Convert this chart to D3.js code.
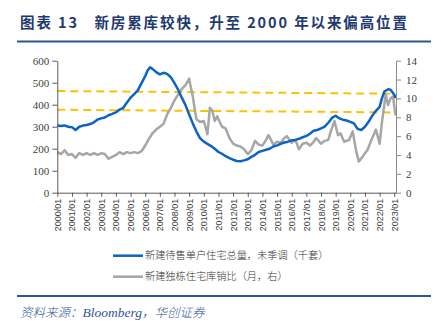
<!DOCTYPE html>
<html><head><meta charset="utf-8">
<script src="https://cdn.jsdelivr.net/npm/d3@7"></script>
<style>
html,body{margin:0;padding:0;background:#fff;}
svg{display:block;}
</style></head>
<body>
<svg id="chart" width="441" height="321"></svg>
<script>
// ---------------- DATA ----------------
const titleText = "图表 13   新房累库较快，升至 2000 年以来偏高位置";
const sourceParts = ["资料来源：", "Bloomberg", "，华创证券"];
const seriesNames = ["新建待售单户住宅总量，未季调（千套）", "新建独栋住宅库销比（月，右）"];

const xTickLabels = ["2000/01","2001/01","2002/01","2003/01","2004/01","2005/01","2006/01","2007/01","2008/01","2009/01","2010/01","2011/01","2012/01","2013/01","2014/01","2015/01","2016/01","2017/01","2018/01","2019/01","2020/01","2021/01","2022/01","2023/01"];
const leftTicks = [0,100,200,300,400,500,600];
const rightTicks = [0,2,4,6,8,10,12,14];

// 新建待售单户住宅总量 (千套), left axis
const inventoryDates = ["2000-01","2000-04","2000-07","2000-10","2001-01","2001-04","2001-07","2001-10","2002-01","2002-04","2002-07","2002-10","2003-01","2003-04","2003-07","2003-10","2004-01","2004-04","2004-07","2004-10","2005-01","2005-04","2005-07","2005-10","2006-01","2006-03","2006-05","2006-07","2006-10","2007-01","2007-04","2007-07","2007-10","2008-01","2008-04","2008-07","2008-10","2009-01","2009-04","2009-07","2009-10","2010-01","2010-04","2010-07","2010-10","2011-01","2011-04","2011-07","2011-10","2012-01","2012-04","2012-07","2012-10","2013-01","2013-04","2013-07","2013-10","2014-01","2014-04","2014-07","2014-10","2015-01","2015-04","2015-07","2015-10","2016-01","2016-04","2016-07","2016-10","2017-01","2017-04","2017-07","2017-10","2018-01","2018-04","2018-07","2018-10","2019-01","2019-04","2019-07","2019-10","2020-01","2020-04","2020-07","2020-10","2021-01","2021-04","2021-07","2021-10","2022-01","2022-03","2022-05","2022-08","2022-10","2023-01","2023-02"];
const inventoryValues = [305,303,306,300,298,285,300,305,308,312,320,333,338,342,352,358,365,378,385,410,432,448,465,498,530,555,570,563,548,538,545,540,525,498,468,432,398,355,315,278,247,232,222,212,200,185,177,166,157,150,144,143,147,152,163,172,185,190,195,200,210,215,222,228,232,238,240,245,252,258,268,282,285,292,300,318,340,350,338,332,328,322,315,290,285,300,322,350,372,390,430,460,470,468,445,430];

// 新建独栋住宅库销比 (月), right axis
const ratioDates = ["2000-01","2000-04","2000-07","2000-10","2001-01","2001-04","2001-07","2001-10","2002-01","2002-04","2002-07","2002-10","2003-01","2003-04","2003-07","2003-10","2004-01","2004-04","2004-07","2004-10","2005-01","2005-04","2005-07","2005-10","2006-01","2006-04","2006-07","2006-10","2007-01","2007-04","2007-07","2007-10","2008-01","2008-04","2008-07","2008-10","2009-01","2009-02","2009-04","2009-06","2009-07","2009-10","2010-01","2010-04","2010-06","2010-08","2010-10","2010-12","2011-02","2011-04","2011-07","2011-10","2012-01","2012-04","2012-07","2012-10","2013-01","2013-04","2013-07","2013-10","2014-01","2014-04","2014-06","2014-10","2015-01","2015-04","2015-07","2015-09","2016-01","2016-04","2016-07","2016-10","2017-01","2017-04","2017-07","2017-09","2018-01","2018-04","2018-07","2018-09","2018-12","2019-03","2019-05","2019-08","2019-12","2020-03","2020-06","2020-08","2020-11","2021-01","2021-03","2021-06","2021-08","2021-10","2022-01","2022-03","2022-06","2022-08","2022-10","2022-12","2023-02"];
const ratioValues = [4.3,4.1,4.5,4.0,4.1,3.7,4.2,4.0,4.2,4.0,4.2,4.0,4.2,4.1,3.6,3.8,4.0,4.3,4.1,4.3,4.2,4.3,4.2,4.4,5.0,5.7,6.3,6.7,7.0,7.3,8.3,9.0,9.8,10.4,11.0,11.4,12.1,11.4,10.2,8.5,7.8,7.5,7.6,6.2,9.0,8.7,7.6,8.1,7.5,7.0,6.8,5.8,5.2,5.0,4.9,4.6,4.1,4.5,5.5,5.1,5.0,5.6,6.1,5.1,5.4,5.3,5.8,6.0,5.3,5.6,4.6,5.2,5.3,5.0,5.4,5.8,5.2,5.5,5.6,6.5,7.6,6.1,6.3,5.4,5.6,6.5,4.3,3.3,3.8,4.2,4.5,5.5,6.1,6.7,5.2,7.5,10.4,9.3,10.0,10.2,8.2];

// 参考虚线 (左轴单位, 起点/终点)
const refLineStart = [462, 377];
const refLineEnd = [450, 365];

// ---------------- CHART ----------------
const parse = d3.timeParse("%Y-%m");
const svg = d3.select("#chart");

const x = d3.scaleTime()
  .domain([parse("2000-01"), parse("2023-02")])
  .range([57.3, 395.5]);
const yL = d3.scaleLinear().domain([0, 600]).range([192.7, 60.7]);
const yR = d3.scaleLinear().domain([0, 14]).range([192.7, 60.7]);

// title
svg.append("text")
  .attr("x", 20).attr("y", 28)
  .attr("font-family", "'Noto Sans CJK SC', sans-serif")
  .attr("font-weight", "bold")
  .attr("font-size", 14.5)
  .attr("fill", "#1f3a6e")
  .attr("textLength", 387)
  .attr("lengthAdjust", "spacing")
  .style("white-space", "pre")
  .text(titleText);

// top & bottom rules
svg.append("line").attr("x1", 17).attr("x2", 431).attr("y1", 41.5).attr("y2", 41.5)
  .attr("stroke", "#2f5597").attr("stroke-width", 2);
svg.append("line").attr("x1", 17).attr("x2", 431).attr("y1", 296).attr("y2", 296)
  .attr("stroke", "#2f5597").attr("stroke-width", 2);

// reference dashed lines
refLineStart.forEach((v, i) => {
  svg.append("line")
    .attr("x1", x(parse("2000-01"))).attr("x2", x(parse("2023-01")) - 2)
    .attr("y1", yL(v)).attr("y2", yL(refLineEnd[i]))
    .attr("stroke", "#ffc000").attr("stroke-width", 2)
    .attr("stroke-dasharray", "8,5");
});

// lines
const ratioData = ratioDates.map((d, i) => ({ date: parse(d), value: ratioValues[i] }));
const invData = inventoryDates.map((d, i) => ({ date: parse(d), value: inventoryValues[i] }));

svg.append("path").datum(ratioData)
  .attr("fill", "none").attr("stroke", "#a6a6a6").attr("stroke-width", 2.5)
  .attr("stroke-linejoin", "round")
  .attr("d", d3.line().x(d => x(d.date)).y(d => yR(d.value)));

svg.append("path").datum(invData)
  .attr("fill", "none").attr("stroke", "#0b63c4").attr("stroke-width", 2.5)
  .attr("stroke-linejoin", "round")
  .attr("d", d3.line().x(d => x(d.date)).y(d => yL(d.value)));

// left axis
const gL = svg.append("g").attr("transform", "translate(57.3,0)")
  .call(d3.axisLeft(yL).tickValues(leftTicks).tickSize(5).tickPadding(3).tickSizeOuter(0));
gL.select(".domain").attr("stroke", "#595959");
gL.selectAll(".tick line").attr("stroke", "#595959");
gL.selectAll("text").attr("font-family", "'Liberation Serif', serif").attr("font-size", 11).attr("fill", "#404040");

// right axis
const gR = svg.append("g").attr("transform", "translate(396,0)")
  .call(d3.axisRight(yR).tickValues(rightTicks).tickSize(5).tickPadding(5).tickSizeOuter(0));
gR.select(".domain").attr("stroke", "#8c8c8c");
gR.selectAll(".tick line").attr("stroke", "#8c8c8c");
gR.selectAll("text").attr("font-family", "'Liberation Serif', serif").attr("font-size", 11).attr("fill", "#404040");

// bottom axis
const xTickDates = xTickLabels.map(s => parse(s.replace("/", "-")));
const gB = svg.append("g").attr("transform", "translate(0,192.7)")
  .call(d3.axisBottom(x).tickValues(xTickDates).tickFormat((d, i) => xTickLabels[i]).tickSize(4).tickSizeOuter(0));
gB.select(".domain").attr("stroke", "#595959");
gB.selectAll(".tick line").attr("stroke", "#595959");
gB.selectAll("text")
  .attr("font-family", "'Liberation Sans', Arial, sans-serif").attr("font-size", 9).attr("fill", "#404040")
  .attr("text-anchor", "end")
  .attr("transform", "rotate(-90)")
  .attr("x", -6).attr("y", 0).attr("dy", "0.33em");

// legend
const legendY = [255.7, 276.7];
const legendColors = ["#0b63c4", "#a6a6a6"];
seriesNames.forEach((name, i) => {
  svg.append("line").attr("x1", 113).attr("x2", 143).attr("y1", legendY[i]).attr("y2", legendY[i])
    .attr("stroke", legendColors[i]).attr("stroke-width", 2.5);
  svg.append("text").attr("x", 145).attr("y", legendY[i] + 3.6)
    .attr("font-family", "'Noto Sans CJK SC', sans-serif").attr("font-size", 10.2)
    .attr("font-weight", 300)
    .attr("fill", "#333333").text(name);
});

// source
const src = svg.append("text").attr("x", 20).attr("y", 317)
  .attr("font-style", "italic").attr("font-size", 12.5)
  .attr("fill", "#2f5597");
src.append("tspan").attr("font-family", "'Noto Sans CJK SC', sans-serif").attr("font-weight", 300).text(sourceParts[0]);
src.append("tspan").attr("font-family", "'Liberation Serif', serif").attr("font-size", 13.5).text(sourceParts[1]);
src.append("tspan").attr("font-family", "'Noto Sans CJK SC', sans-serif").attr("font-weight", 300).text(sourceParts[2]);
</script>
</body></html>
